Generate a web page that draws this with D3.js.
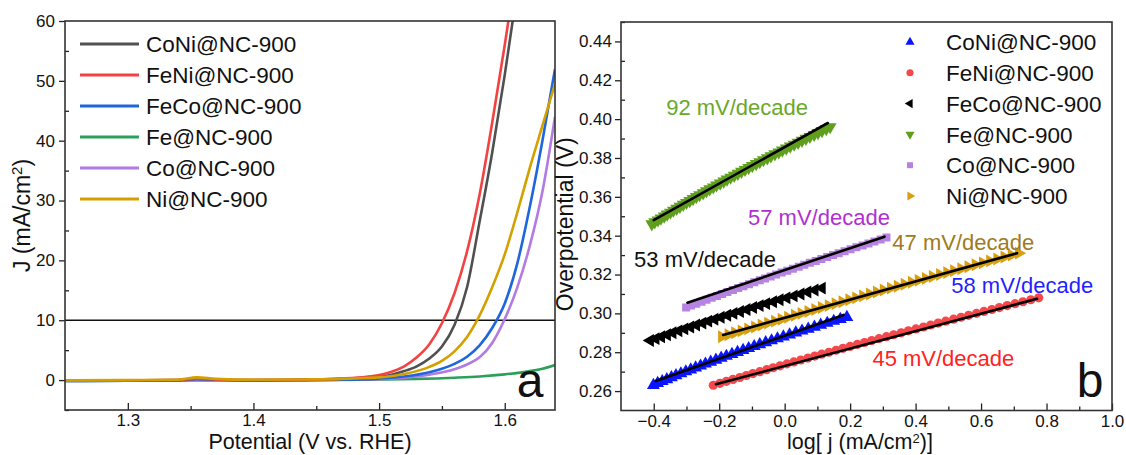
<!DOCTYPE html>
<html><head><meta charset="utf-8">
<script src="https://cdn.jsdelivr.net/npm/d3@7"></script>
<style>
body{margin:0;background:#fff}
svg{display:block}
text{font-family:"Liberation Sans",Arial,sans-serif;fill:#111}
</style>
</head><body><svg id="c" width="1126" height="455"></svg>
<script>
// ---------- Panel a: LSV curves [potential V vs RHE, J mA/cm2] ----------
const seriesNames = ["CoNi@NC-900","FeNi@NC-900","FeCo@NC-900","Fe@NC-900","Co@NC-900","Ni@NC-900"];
const lsvCoNi = [[1.25,-0.1],[1.30,-0.05],[1.34,0.0],[1.355,0.25],[1.37,0.1],[1.40,0.0],[1.44,0.05],[1.47,0.2],[1.49,0.4],[1.50,0.55],[1.51,0.9],[1.52,1.5],[1.53,2.3],[1.54,3.6],[1.55,5.6],[1.56,9.2],[1.57,15.5],[1.58,26.5],[1.59,38],[1.60,51],[1.607,61]];
const lsvFeNi = [[1.25,-0.1],[1.30,-0.05],[1.34,0.0],[1.355,0.25],[1.37,0.1],[1.40,0.0],[1.44,0.05],[1.47,0.25],[1.49,0.55],[1.50,0.85],[1.51,1.4],[1.52,2.3],[1.53,3.8],[1.54,6.0],[1.55,9.5],[1.56,14.5],[1.57,21.5],[1.58,31],[1.59,43],[1.60,56],[1.604,61.5]];
const lsvFeCo = [[1.25,-0.15],[1.30,-0.1],[1.34,-0.05],[1.355,0.15],[1.37,0.05],[1.40,-0.05],[1.44,0.0],[1.47,0.05],[1.50,0.25],[1.52,0.6],[1.54,1.3],[1.55,1.9],[1.56,2.7],[1.57,3.9],[1.58,5.8],[1.59,8.7],[1.60,12.8],[1.61,19.5],[1.62,29],[1.63,40],[1.64,52]];
const lsvFe = [[1.25,-0.15],[1.30,-0.1],[1.34,-0.1],[1.355,0.0],[1.37,-0.1],[1.40,-0.05],[1.45,0.0],[1.50,0.1],[1.53,0.2],[1.56,0.4],[1.58,0.6],[1.60,0.95],[1.62,1.5],[1.63,1.9],[1.64,2.5]];
const lsvCo = [[1.25,-0.15],[1.30,-0.1],[1.34,-0.1],[1.355,-0.05],[1.37,-0.1],[1.40,-0.05],[1.44,0.0],[1.47,0.05],[1.50,0.15],[1.52,0.4],[1.54,0.9],[1.56,1.8],[1.57,2.6],[1.58,3.8],[1.59,6.2],[1.60,10.2],[1.61,15.5],[1.62,22.5],[1.63,31.5],[1.64,44]];
const lsvNi = [[1.25,-0.05],[1.30,0.0],[1.34,0.05],[1.355,0.45],[1.37,0.2],[1.40,0.05],[1.44,0.1],[1.47,0.2],[1.49,0.35],[1.50,0.45],[1.52,1.0],[1.54,2.2],[1.55,3.2],[1.56,4.8],[1.57,7.2],[1.58,10.8],[1.59,15.5],[1.60,21],[1.61,28],[1.62,35.5],[1.63,42.5],[1.64,49.5]];
const refCurrent = 10;
const aXTicks = [1.3,1.4,1.5,1.6];
const aXMinor = [1.35,1.45,1.55];
const aYTicks = [0,10,20,30,40,50,60];
const aYMinor = [-5,5,15,25,35,45,55];

// ---------- Panel b: Tafel plots (log j, overpotential V) ----------
const tafCoNiX = [-0.401,-0.388,-0.374,-0.360,-0.346,-0.332,-0.317,-0.302,-0.287,-0.272,-0.257,-0.242,-0.226,-0.210,-0.194,-0.178,-0.161,-0.144,-0.127,-0.110,-0.093,-0.076,-0.058,-0.040,-0.022,-0.004,0.015,0.034,0.053,0.072,0.091,0.110,0.130,0.150,0.170,0.190];
const tafCoNiY = [0.263,0.264,0.265,0.266,0.267,0.268,0.269,0.270,0.271,0.272,0.273,0.274,0.275,0.276,0.277,0.278,0.279,0.280,0.281,0.282,0.283,0.284,0.285,0.286,0.287,0.288,0.289,0.290,0.291,0.292,0.293,0.294,0.295,0.296,0.297,0.298];
const tafFeNiX = [-0.218,-0.198,-0.178,-0.158,-0.137,-0.117,-0.097,-0.076,-0.055,-0.035,-0.014,0.007,0.028,0.049,0.071,0.092,0.113,0.135,0.157,0.178,0.200,0.222,0.244,0.266,0.288,0.311,0.333,0.356,0.378,0.401,0.424,0.446,0.469,0.492,0.516,0.539,0.562,0.586,0.609,0.633,0.656,0.680,0.704,0.728,0.752,0.776];
const tafFeNiY = [0.263,0.264,0.265,0.266,0.267,0.268,0.269,0.270,0.271,0.272,0.273,0.274,0.275,0.276,0.277,0.278,0.279,0.280,0.281,0.282,0.283,0.284,0.285,0.286,0.287,0.288,0.289,0.290,0.291,0.292,0.293,0.294,0.295,0.296,0.297,0.298,0.299,0.300,0.301,0.302,0.303,0.304,0.305,0.306,0.307,0.308];
const tafFeCoX = [-0.411,-0.394,-0.377,-0.359,-0.342,-0.324,-0.306,-0.288,-0.270,-0.251,-0.233,-0.214,-0.195,-0.175,-0.156,-0.136,-0.116,-0.096,-0.076,-0.056,-0.035,-0.015,0.006,0.028,0.049,0.070,0.092,0.114];
const tafFeCoY = [0.286,0.287,0.288,0.289,0.290,0.291,0.292,0.293,0.294,0.295,0.296,0.297,0.298,0.299,0.300,0.301,0.302,0.303,0.304,0.305,0.306,0.307,0.308,0.309,0.310,0.311,0.312,0.313];
const tafFeX = [-0.406,-0.397,-0.387,-0.378,-0.368,-0.359,-0.349,-0.340,-0.330,-0.320,-0.310,-0.300,-0.290,-0.280,-0.270,-0.260,-0.249,-0.239,-0.229,-0.218,-0.208,-0.197,-0.186,-0.176,-0.165,-0.154,-0.143,-0.132,-0.121,-0.110,-0.099,-0.087,-0.076,-0.065,-0.053,-0.042,-0.030,-0.018,-0.007,0.005,0.017,0.029,0.041,0.053,0.065,0.077,0.090,0.102,0.114,0.127,0.139];
const tafFeY = [0.346,0.347,0.348,0.349,0.350,0.351,0.352,0.353,0.354,0.355,0.356,0.357,0.358,0.359,0.360,0.361,0.362,0.363,0.364,0.365,0.366,0.367,0.368,0.369,0.370,0.371,0.372,0.373,0.374,0.375,0.376,0.377,0.378,0.379,0.380,0.381,0.382,0.383,0.384,0.385,0.386,0.387,0.388,0.389,0.390,0.391,0.392,0.393,0.394,0.395,0.396];
const tafCoX = [-0.301,-0.286,-0.270,-0.254,-0.239,-0.223,-0.207,-0.191,-0.175,-0.158,-0.142,-0.126,-0.109,-0.093,-0.076,-0.060,-0.043,-0.026,-0.009,0.008,0.025,0.043,0.060,0.077,0.095,0.112,0.130,0.148,0.165,0.183,0.201,0.219,0.238,0.256,0.274,0.293,0.311];
const tafCoY = [0.303,0.304,0.305,0.306,0.307,0.308,0.309,0.310,0.311,0.312,0.313,0.314,0.315,0.316,0.317,0.318,0.319,0.320,0.321,0.322,0.323,0.324,0.325,0.326,0.327,0.328,0.329,0.330,0.331,0.332,0.333,0.334,0.335,0.336,0.337,0.338,0.339];
const tafNiX = [-0.192,-0.172,-0.152,-0.132,-0.112,-0.091,-0.071,-0.051,-0.030,-0.010,0.010,0.031,0.051,0.072,0.093,0.113,0.134,0.155,0.176,0.197,0.218,0.239,0.260,0.281,0.302,0.324,0.345,0.366,0.388,0.409,0.431,0.452,0.474,0.496,0.517,0.539,0.561,0.583,0.605,0.627,0.649,0.671,0.693,0.715];
const tafNiY = [0.288,0.289,0.290,0.291,0.292,0.293,0.294,0.295,0.296,0.297,0.298,0.299,0.300,0.301,0.302,0.303,0.304,0.305,0.306,0.307,0.308,0.309,0.310,0.311,0.312,0.313,0.314,0.315,0.316,0.317,0.318,0.319,0.320,0.321,0.322,0.323,0.324,0.325,0.326,0.327,0.328,0.329,0.330,0.331];
// linear fits: [start, end] as [log j, overpotential]
const fitCoNi = [[-0.394,0.2652],[0.180,0.2992]];
const fitFeNi = [[-0.210,0.2635],[0.771,0.3075]];
const fitFeCo = [[-0.400,0.2866],[0.110,0.3131]];
const fitFe   = [[-0.400,0.3480],[0.132,0.3980]];
const fitCo   = [[-0.297,0.3055],[0.305,0.3395]];
const fitNi   = [[-0.188,0.2889],[0.710,0.3310]];
const slopeLabels = ["58 mV/decade","45 mV/decade","53 mV/decade","92 mV/decade","57 mV/decade","47 mV/decade"];
const slopeLabelX = [0.509,0.268,-0.460,-0.362,-0.112,0.329];
const slopeLabelY = [0.3106,0.2729,0.3240,0.4023,0.3456,0.3327];
const bXTicks = [-0.4,-0.2,0.0,0.2,0.4,0.6,0.8,1.0];
const bXMinor = [-0.3,-0.1,0.1,0.3,0.5,0.7,0.9];
const bYTicks = [0.26,0.28,0.30,0.32,0.34,0.36,0.38,0.40,0.42,0.44];
const bYMinor = [0.27,0.29,0.31,0.33,0.35,0.37,0.39,0.41,0.43,0.45];

// ---------- styles ----------
const lineColors = ["#505050","#f24242","#1d66dc","#2ca05a","#b27ae3","#d3a000"];
const markColors = ["#0a14ff","#f4484c","#000000","#5f9f1c","#b683e2","#d8a010"];
const labelColors = ["#1f1fff","#ff2222","#111111","#6aa82a","#b030d0","#a07a20"];
const markShapes = ["up","circle","left","down","square","right"];
const FONT = '"Liberation Sans",Arial,sans-serif';

const svg = d3.select("#c");
svg.append("rect").attr("width",1126).attr("height",455).attr("fill","#fff");

// ================= Panel a =================
const A = {l:65, r:555, t:21, b:410};
const xA = d3.scaleLinear().domain([1.25,1.64]).range([A.l,A.r]);
const yA = d3.scaleLinear().domain([-5,60]).range([A.b,A.t]);
const gA = svg.append("g");
gA.append("clipPath").attr("id","clipA").append("rect")
  .attr("x",A.l).attr("y",A.t).attr("width",A.r-A.l).attr("height",A.b-A.t);

const plotA = gA.append("g").attr("clip-path","url(#clipA)");
plotA.append("line")
  .attr("x1",xA(1.25)).attr("x2",xA(1.64)).attr("y1",yA(refCurrent)).attr("y2",yA(refCurrent))
  .attr("stroke","#111").attr("stroke-width",1.6);
const lsvAll = [lsvCoNi,lsvFeNi,lsvFeCo,lsvFe,lsvCo,lsvNi];
const lineGen = d3.line().x(d=>xA(d[0])).y(d=>yA(d[1])).curve(d3.curveMonotoneX);
const drawOrder = [3,4,2,0,1,5];
drawOrder.forEach(i=>{
  plotA.append("path").attr("d",lineGen(lsvAll[i])).attr("fill","none")
    .attr("stroke",lineColors[i]).attr("stroke-width",2.6).attr("stroke-linejoin","round");
});

function styleAxis(g){
  g.select(".domain").remove();
  g.selectAll("line").attr("stroke","#222").attr("stroke-width",1.3);
  g.selectAll("text").attr("font-size",17).attr("font-family",FONT).attr("fill","#111");
}
// x axis a
gA.append("g").attr("transform",`translate(0,${A.b})`)
  .call(d3.axisBottom(xA).tickValues(aXTicks).tickFormat(d3.format(".1f")).tickSize(-7).tickPadding(4)).call(styleAxis);
gA.append("g").attr("transform",`translate(0,${A.b})`)
  .call(d3.axisBottom(xA).tickValues(aXMinor).tickFormat("").tickSize(-4)).call(styleAxis);
// y axis a
gA.append("g").attr("transform",`translate(${A.l},0)`)
  .call(d3.axisLeft(yA).tickValues(aYTicks).tickSize(6).tickPadding(4)).call(styleAxis);
gA.append("g").attr("transform",`translate(${A.l},0)`)
  .call(d3.axisLeft(yA).tickValues(aYMinor).tickFormat("").tickSize(-4)).call(styleAxis);
gA.append("rect").attr("x",A.l).attr("y",A.t).attr("width",A.r-A.l).attr("height",A.b-A.t)
  .attr("fill","none").attr("stroke","#333").attr("stroke-width",1.6);

// legend a
const legA = gA.append("g");
seriesNames.forEach((n,i)=>{
  const y = 44 + i*31;
  legA.append("line").attr("x1",80).attr("x2",139).attr("y1",y).attr("y2",y)
    .attr("stroke",lineColors[i]).attr("stroke-width",3);
  legA.append("text").attr("x",146).attr("y",y).attr("dy","0.36em")
    .attr("font-size",22.5).text(n);
});
// axis titles a
gA.append("text").attr("x",(A.l+A.r)/2).attr("y",448.5).attr("text-anchor","middle")
  .attr("font-size",21.5).text("Potential (V vs. RHE)");
const yt = gA.append("text").attr("transform",`translate(30,${(A.t+A.b)/2}) rotate(-90)`)
  .attr("text-anchor","middle").attr("font-size",23);
yt.append("tspan").text("J (mA/cm");
yt.append("tspan").attr("dy",-8).attr("font-size",15).text("2");
yt.append("tspan").attr("dy",8).text(")");
gA.append("text").attr("x",530).attr("y",397).attr("text-anchor","middle")
  .attr("font-size",48).text("a");

// ================= Panel b =================
const B = {l:621, r:1112, t:22, b:410.5};
const xB = d3.scaleLinear().domain([-0.5,1.0]).range([B.l,B.r]);
const yB = d3.scaleLinear().domain([0.25,0.45]).range([B.b,B.t]);
const gB = svg.append("g");
gB.append("clipPath").attr("id","clipB").append("rect")
  .attr("x",B.l).attr("y",B.t).attr("width",B.r-B.l).attr("height",B.b-B.t);
const plotB = gB.append("g").attr("clip-path","url(#clipB)");

const tafX = [tafCoNiX,tafFeNiX,tafFeCoX,tafFeX,tafCoX,tafNiX];
const tafY = [tafCoNiY,tafFeNiY,tafFeCoY,tafFeY,tafCoY,tafNiY];
const fits = [fitCoNi,fitFeNi,fitFeCo,fitFe,fitCo,fitNi];

function symbolFor(shape, big){
  const s = big ? 72 : 36;
  if(shape==="circle") return {path:d3.symbol(d3.symbolCircle, big?66:40)(), rot:0};
  if(shape==="square") return {path:d3.symbol(d3.symbolSquare, big?64:36)(), rot:0};
  const rot = {up:0,down:180,left:-90,right:90}[shape];
  return {path:d3.symbol(d3.symbolTriangle, s)(), rot:rot};
}
tafX.forEach((xs,i)=>{
  const sym = symbolFor(markShapes[i], true);
  const pts = xs.map((x,k)=>[x,tafY[i][k]]);
  plotB.append("g").selectAll("path").data(pts).join("path")
    .attr("d",sym.path)
    .attr("transform",d=>`translate(${xB(d[0])},${yB(d[1])}) rotate(${sym.rot})`)
    .attr("fill",markColors[i]);
});
const fitLine = d3.line().x(d=>xB(d[0])).y(d=>yB(d[1]));
fits.forEach(f=>{
  plotB.append("path").attr("d",fitLine(f)).attr("stroke","#000").attr("stroke-width",2.6)
    .attr("fill","none").attr("stroke-linecap","round");
});
// slope labels
slopeLabels.forEach((t,i)=>{
  gB.append("text").attr("x",xB(slopeLabelX[i])).attr("y",yB(slopeLabelY[i]))
    .attr("font-size",22).attr("fill",labelColors[i]).style("fill",labelColors[i]).text(t);
});

// axes b
gB.append("g").attr("transform",`translate(0,${B.b})`)
  .call(d3.axisBottom(xB).tickValues(bXTicks).tickFormat(d3.format(".1f")).tickSize(-7).tickPadding(4)).call(styleAxis);
gB.append("g").attr("transform",`translate(0,${B.b})`)
  .call(d3.axisBottom(xB).tickValues(bXMinor).tickFormat("").tickSize(-4)).call(styleAxis);
gB.append("g").attr("transform",`translate(${B.l},0)`)
  .call(d3.axisLeft(yB).tickValues(bYTicks).tickFormat(d3.format(".2f")).tickSize(6).tickPadding(3)).call(styleAxis);
gB.append("g").attr("transform",`translate(${B.l},0)`)
  .call(d3.axisLeft(yB).tickValues(bYMinor).tickFormat("").tickSize(-4)).call(styleAxis);
gB.append("rect").attr("x",B.l).attr("y",B.t).attr("width",B.r-B.l).attr("height",B.b-B.t)
  .attr("fill","none").attr("stroke","#333").attr("stroke-width",1.6);

// legend b
const legB = gB.append("g");
seriesNames.forEach((n,i)=>{
  const y = 42 + i*30.8;
  const sym = symbolFor(markShapes[i], false);
  legB.append("path").attr("d",sym.path)
    .attr("transform",`translate(910,${y}) rotate(${sym.rot})`).attr("fill",markColors[i]);
  legB.append("text").attr("x",946).attr("y",y).attr("dy","0.36em").attr("font-size",22.5).text(n);
});
// axis titles b
const xt = gB.append("text").attr("x",860).attr("y",449).attr("text-anchor","middle").attr("font-size",21.5);
xt.append("tspan").text("log[ j (mA/cm");
xt.append("tspan").attr("dy",-6).attr("font-size",13).text("2");
xt.append("tspan").attr("dy",6).text(")]");
gB.append("text").attr("transform",`translate(573,${(B.t+B.b)/2+8}) rotate(-90)`)
  .attr("text-anchor","middle").attr("font-size",23).text("Overpotential (V)");
gB.append("text").attr("x",1090).attr("y",397).attr("text-anchor","middle")
  .attr("font-size",48).text("b");
</script>
</body></html>
